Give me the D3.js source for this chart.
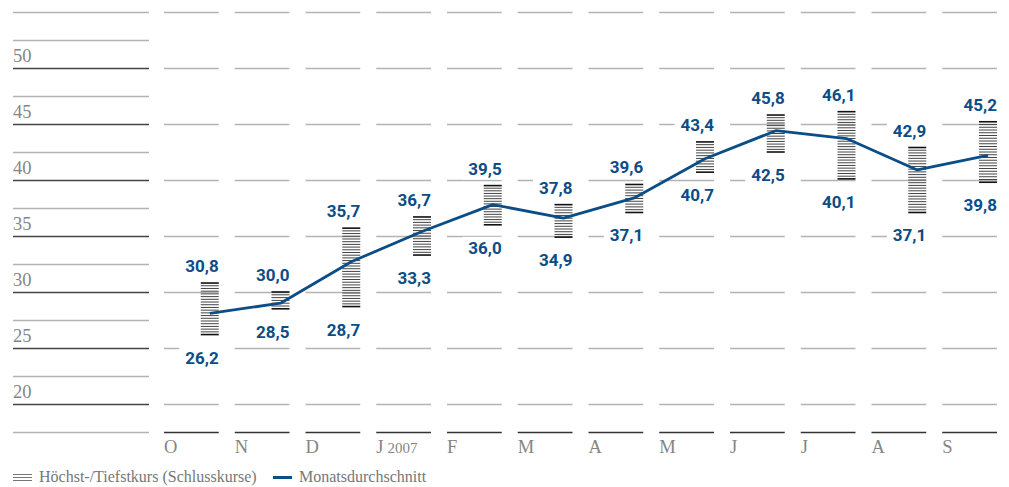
<!DOCTYPE html>
<html>
<head>
<meta charset="utf-8">
<script src="https://cdn.jsdelivr.net/npm/d3@7"></script>
<style>
  body { margin: 0; background: #fff; }
  svg { display: block; }
</style>
</head>
<body>
<div id="chart"></div>
<script>
  // monthly share price, Oct 2006 - Sep 2007
  var months = ["O", "N", "D", "J", "F", "M", "A", "M", "J", "J", "A", "S"];
  var high = [30.8, 30.0, 35.7, 36.7, 39.5, 37.8, 39.6, 43.4, 45.8, 46.1, 42.9, 45.2];
  var low  = [26.2, 28.5, 28.7, 33.3, 36.0, 34.9, 37.1, 40.7, 42.5, 40.1, 37.1, 39.8];
  var avg  = [28.1, 29.0, 32.7, 35.4, 37.8, 36.6, 38.4, 41.9, 44.4, 43.7, 40.9, 42.2];
  var yTicks = [20, 25, 30, 35, 40, 45, 50];

  var width = 1009, height = 487;
  var blue = "#0b4d86";
  var serif = "'Liberation Serif', serif";

  var svg = d3.select("#chart")
    .append("svg")
      .attr("width", width)
      .attr("height", height);

  var y = d3.scaleLinear()
    .domain([17.5, 55])
    .range([432, 12]);

  var x = d3.scaleBand()
    .domain(d3.range(months.length))
    .range([164, 997])
    .paddingInner(0.226)
    .paddingOuter(0);

  var barW = 18;
  function barX(i) { return x(i) + x.bandwidth() - barW; }
  function barC(i) { return barX(i) + barW / 2; }

  // left axis block: lines every 2.5, dark ones on the labelled values
  var axisLines = d3.range(17.5, 55.01, 2.5);
  svg.append("g").selectAll("line")
    .data(axisLines)
    .enter().append("line")
      .attr("x1", 13).attr("x2", 149)
      .attr("y1", function(d) { return Math.round(y(d)) + 0.5; })
      .attr("y2", function(d) { return Math.round(y(d)) + 0.5; })
      .attr("stroke", function(d) { return yTicks.indexOf(d) >= 0 ? "#444" : "#b3b3b3"; })
      .attr("stroke-width", function(d) { return yTicks.indexOf(d) >= 0 ? 1.6 : 1.3; });

  svg.append("g").selectAll("text")
    .data(yTicks)
    .enter().append("text")
      .attr("x", 13)
      .attr("y", function(d) { return y(d) - 6; })
      .attr("font-family", serif)
      .attr("font-size", 18.5)
      .attr("fill", "#858585")
      .text(function(d) { return d; });

  // month columns: short grid segments
  var colLines = d3.range(20, 55.01, 5);
  var cols = svg.append("g").selectAll("g")
    .data(d3.range(months.length))
    .enter().append("g");

  cols.selectAll("line")
    .data(colLines)
    .enter().append("line")
      .attr("x1", function(d) { return x(d3.select(this.parentNode).datum()); })
      .attr("x2", function(d) { return x(d3.select(this.parentNode).datum()) + x.bandwidth(); })
      .attr("y1", function(d) { return Math.round(y(d)) + 0.5; })
      .attr("y2", function(d) { return Math.round(y(d)) + 0.5; })
      .attr("stroke", "#b3b3b3")
      .attr("stroke-width", 1.3);

  cols.append("line")
    .attr("x1", function(i) { return x(i); })
    .attr("x2", function(i) { return x(i) + x.bandwidth(); })
    .attr("y1", Math.round(y(17.5)) + 0.5)
    .attr("y2", Math.round(y(17.5)) + 0.5)
    .attr("stroke", "#333")
    .attr("stroke-width", 1.6);

  // month labels
  var mLab = cols.append("text")
    .attr("x", function(i) { return x(i); })
    .attr("y", 453)
    .attr("font-family", serif)
    .attr("font-size", 18.5)
    .attr("fill", "#858585")
    .text(function(i) { return months[i]; });
  mLab.filter(function(i) { return i === 3; })
    .append("tspan")
      .attr("font-size", 15)
      .attr("dx", 4)
      .text("2007");

  // value labels with white background
  function addLabel(g, i, val, baseline) {
    var t = g.append("text")
      .attr("x", x(i) + x.bandwidth())
      .attr("y", baseline)
      .attr("text-anchor", "end")
      .attr("font-family", "Roboto, sans-serif")
      .attr("font-weight", "bold")
      .attr("font-size", 17)
      .attr("fill", blue)
      .text(d3.format(".1f")(val).replace(".", ","));
    var b = t.node().getBBox();
    g.insert("rect", "text")
      .attr("x", b.x - 6).attr("y", b.y - 1)
      .attr("width", b.width + 7).attr("height", b.height + 2)
      .attr("fill", "#fff");
  }

  var labels = svg.append("g");
  months.forEach(function(m, i) {
    var g = labels.append("g");
    addLabel(g, i, high[i], y(high[i]) - 11);
    addLabel(g, i, low[i], y(low[i]) + 29);
  });

  // hatched high/low bars
  var bars = svg.append("g");
  months.forEach(function(m, i) {
    var top = y(high[i]), bot = y(low[i]);
    var n = Math.round((bot - top) / 2.7);
    var step = (bot - top) / n;
    bars.append("g").selectAll("line")
      .data(d3.range(n + 1))
      .enter().append("line")
        .attr("x1", barX(i)).attr("x2", barX(i) + barW)
        .attr("y1", function(k) { return top + k * step; })
        .attr("y2", function(k) { return top + k * step; })
        .attr("stroke", function(k) { return (k === 0 || k === n) ? "#111" : "#444"; })
        .attr("stroke-width", function(k) { return (k === 0 || k === n) ? 1.6 : 1; });
  });

  // monthly average line
  svg.append("path")
    .datum(avg)
    .attr("fill", "none")
    .attr("stroke", blue)
    .attr("stroke-width", 2.8)
    .attr("stroke-linejoin", "round")
    .attr("d", d3.line()
      .x(function(d, i) { return barC(i); })
      .y(function(d) { return y(d); }));

  // legend
  var legend = svg.append("g");
  legend.selectAll("line.h")
    .data([474, 477, 480])
    .enter().append("line")
      .attr("class", "h")
      .attr("x1", 13).attr("x2", 32)
      .attr("y1", function(d) { return d + 0.5; })
      .attr("y2", function(d) { return d + 0.5; })
      .attr("stroke", "#777")
      .attr("stroke-width", 1);
  legend.append("text")
    .attr("x", 39).attr("y", 482)
    .attr("font-family", serif)
    .attr("font-size", 16)
    .attr("fill", "#777")
    .text("Höchst-/Tiefstkurs (Schlusskurse)");
  legend.append("line")
    .attr("x1", 273).attr("x2", 292)
    .attr("y1", 477.5).attr("y2", 477.5)
    .attr("stroke", blue)
    .attr("stroke-width", 3);
  legend.append("text")
    .attr("x", 299).attr("y", 482)
    .attr("font-family", serif)
    .attr("font-size", 16)
    .attr("fill", "#777")
    .text("Monatsdurchschnitt");
</script>
</body>
</html>
